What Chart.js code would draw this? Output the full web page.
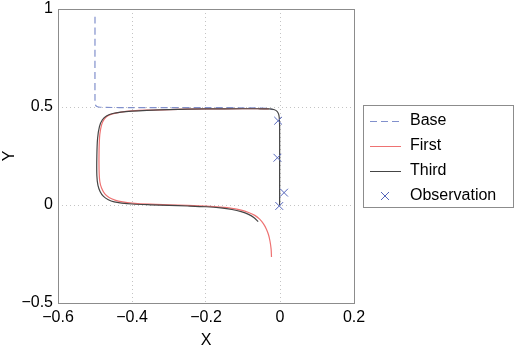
<!DOCTYPE html>
<html>
<head>
<meta charset="utf-8">
<script src="https://cdn.jsdelivr.net/npm/chart.js@4.4.1/dist/chart.umd.min.js"></script>
<style>
  html, body { margin: 0; padding: 0; background: #fff; }
  #chart { display: block; }
</style>
</head>
<body>
<canvas id="chart" width="522" height="350"></canvas>
<script>
// Tick values on each axis
const xTicks = [-0.6, -0.4, -0.2, 0, 0.2];
const yTicks = [-0.5, 0, 0.5, 1];

// Base (dashed blue)
const baseX = [-0.500, -0.500, -0.499, -0.496, -0.490, -0.470, -0.400, -0.300, -0.200, -0.100, -0.050, -0.030, -0.020];
const baseY = [0.960, 0.530, 0.512, 0.504, 0.500, 0.498, 0.497, 0.497, 0.497, 0.496, 0.495, 0.492, 0.487];

// First (red)
const firstX = [-0.030, -0.060, -0.100, -0.200, -0.300, -0.360, -0.400, -0.430, -0.450, -0.465, -0.475, -0.482, -0.487, -0.489, -0.489,
    -0.487, -0.482, -0.474, -0.462, -0.446, -0.425, -0.400, -0.350, -0.300, -0.250, -0.200, -0.160, -0.130, -0.105, -0.085,
    -0.068, -0.055, -0.045, -0.037, -0.031, -0.027, -0.024, -0.023];
const firstY = [0.490, 0.491, 0.491, 0.490, 0.487, 0.484, 0.480, 0.474, 0.466, 0.455, 0.438, 0.410, 0.360, 0.280, 0.180,
    0.120, 0.085, 0.058, 0.038, 0.025, 0.016, 0.010, 0.004, 0.001, -0.002, -0.006, -0.011, -0.017, -0.026, -0.038,
    -0.053, -0.072, -0.095, -0.122, -0.152, -0.185, -0.225, -0.265];

// Third (dark grey)
const thirdX = [-0.001, -0.001, -0.001, -0.002, -0.004, -0.008, -0.015, -0.030, -0.060, -0.100, -0.200, -0.300, -0.360, -0.400,
    -0.430, -0.452, -0.468, -0.480, -0.488, -0.493, -0.495, -0.495, -0.492, -0.486, -0.477, -0.464, -0.448, -0.428, -0.400,
    -0.350, -0.300, -0.250, -0.200, -0.160, -0.130, -0.105, -0.085, -0.070, -0.059];
const thirdY = [0.000, 0.200, 0.400, 0.445, 0.465, 0.478, 0.486, 0.490, 0.491, 0.491, 0.490, 0.487, 0.483, 0.479,
    0.474, 0.467, 0.455, 0.435, 0.400, 0.340, 0.250, 0.150, 0.100, 0.068, 0.044, 0.027, 0.016, 0.010, 0.005,
    0.001, -0.002, -0.005, -0.009, -0.015, -0.023, -0.034, -0.048, -0.065, -0.085];

// Observation markers
const obsX = [-0.005, -0.007, 0.011, -0.002];
const obsY = [0.430, 0.241, 0.063, -0.005];

const toPoints = (xs, ys) => xs.map((x, i) => ({ x, y: ys[i] }));
const fmt = v => String(Number(v.toFixed(2))).replace('-', '\u2212');

Chart.defaults.font.family = '"Liberation Sans", Arial, Helvetica, sans-serif';
Chart.defaults.font.size = 16;
Chart.defaults.color = '#000';

// Grey box around the plot area
const frame = {
    id: 'frame',
    afterDatasetsDraw(chart) {
        const { ctx, chartArea: a } = chart;
        ctx.save();
        ctx.strokeStyle = '#8c8c8c';
        ctx.lineWidth = 1;
        ctx.strokeRect(Math.round(a.left) + 0.5, Math.round(a.top) + 0.5,
            Math.round(a.right - a.left), Math.round(a.bottom - a.top));
        ctx.restore();
    }
};

// MATLAB-like boxed legend at the right
const boxLegend = {
    id: 'boxLegend',
    afterDraw(chart) {
        const { ctx } = chart;
        const left = 363, top = 105, w = 150, h = 102, row = 25;
        ctx.save();
        ctx.fillStyle = '#fff';
        ctx.fillRect(left, top, w, h);
        ctx.strokeStyle = '#8c8c8c';
        ctx.lineWidth = 1;
        ctx.strokeRect(left + 0.5, top + 0.5, w, h);
        ctx.font = '16px "Liberation Sans", Arial, sans-serif';
        ctx.textBaseline = 'middle';
        chart.data.datasets.forEach((ds, i) => {
            const y = top + 16 + i * row;
            ctx.strokeStyle = ds.borderColor;
            ctx.lineWidth = 1;
            if (ds.showLine) {
                ctx.setLineDash(ds.borderDash || []);
                ctx.beginPath();
                ctx.moveTo(370, y + 0.5);
                ctx.lineTo(401, y + 0.5);
                ctx.stroke();
                ctx.setLineDash([]);
            } else {
                const r = 4;
                ctx.beginPath();
                ctx.moveTo(385 - r, y - r); ctx.lineTo(385 + r, y + r);
                ctx.moveTo(385 - r, y + r); ctx.lineTo(385 + r, y - r);
                ctx.stroke();
            }
            ctx.fillStyle = '#000';
            ctx.fillText(ds.label, 410, y);
        });
        ctx.restore();
    }
};

const lineSet = (label, xs, ys, color, order, dash) => ({
    label,
    data: toPoints(xs, ys),
    showLine: true,
    borderColor: color,
    borderWidth: 1.2,
    borderDash: dash || [],
    pointRadius: 0,
    tension: 0.3,
    fill: false,
    order,
});

new Chart(document.getElementById('chart'), {
    type: 'scatter',
    data: {
        datasets: [
            lineSet('Base', baseX, baseY, '#8190cc', 3, [7, 4]),
            lineSet('First', firstX, firstY, '#ee7272', 2),
            lineSet('Third', thirdX, thirdY, '#454545', 1),
            {
                label: 'Observation',
                data: toPoints(obsX, obsY),
                showLine: false,
                pointStyle: 'crossRot',
                pointRadius: 5.5,
                borderColor: '#5566bb',
                borderWidth: 1,
                order: 0,
            },
        ],
    },
    options: {
        responsive: false,
        animation: false,
        events: [],
        layout: { padding: { left: 0, right: 168, top: 9, bottom: 0 } },
        plugins: { legend: { display: false }, tooltip: { enabled: false } },
        scales: {
            x: {
                type: 'linear',
                min: -0.6,
                max: 0.2,
                afterBuildTicks: s => { s.ticks = xTicks.map(value => ({ value })); },
                afterFit: s => { s.height = 47; s.paddingLeft = 0; s.paddingRight = 0; },
                ticks: { callback: fmt, padding: 5, maxRotation: 0 },
                grid: { color: '#c4c4c4', drawTicks: false },
                border: { display: false, dash: [1, 3] },
                title: { display: true, text: 'X', padding: { top: 0, bottom: 0 } },
            },
            y: {
                type: 'linear',
                min: -0.5,
                max: 1,
                afterBuildTicks: s => { s.ticks = yTicks.map(value => ({ value })); },
                afterFit: s => { s.width = 58; s.paddingTop = 0; s.paddingBottom = 0; },
                ticks: { callback: fmt, padding: 5 },
                grid: { color: '#c4c4c4', drawTicks: false },
                border: { display: false, dash: [1, 3] },
                title: { display: true, text: 'Y', padding: { top: 0, bottom: 0 } },
            },
        },
    },
    plugins: [frame, boxLegend],
});
</script>
</body>
</html>
